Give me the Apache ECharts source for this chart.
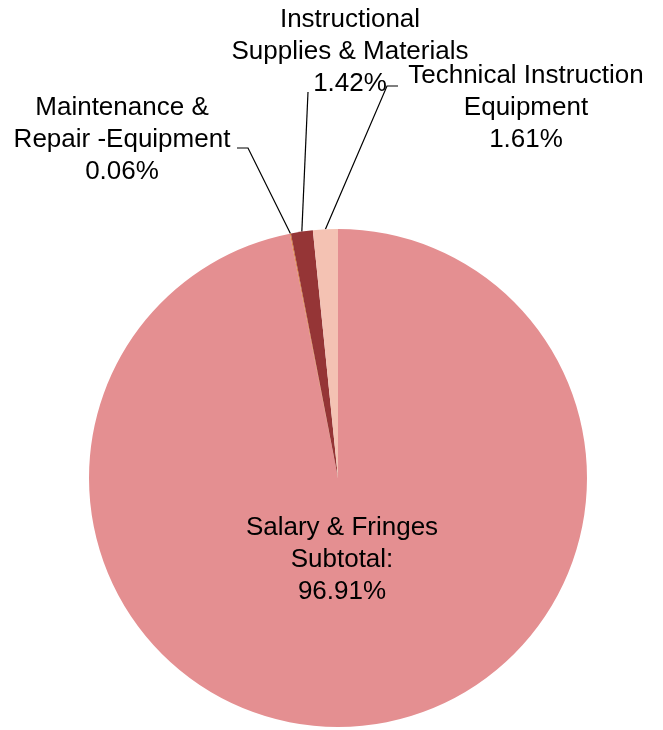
<!DOCTYPE html>
<html>
<head>
<meta charset="utf-8">
<script src="https://cdn.jsdelivr.net/npm/echarts@6/dist/echarts.min.js"></script>
<style>
  html, body { margin: 0; padding: 0; background: #fff; }
  #chart { width: 663px; height: 730px; }
</style>
</head>
<body>
<div id="chart"></div>
<script>
// budget split, in percent of total
var categories = [
    'Salary & Fringes\nSubtotal:',
    'Maintenance &\nRepair -Equipment',
    'Instructional\nSupplies & Materials',
    'Technical Instruction\nEquipment'
];
var shares = [96.91, 0.06, 1.42, 1.61];
var colors = ['#e48f91', '#d9772e', '#953536', '#f4c2b3'];

// where each label sits (centre of text block) and the knee/end of its leader line
var labelSpots = [
    { x: 342, y: 560 },
    { x: 122, y: 140, knee: [248, 148], end: [237, 148] },
    { x: 350, y: 52, knee: [308, 92], end: [308, 92] },
    { x: 526, y: 108, knee: [387, 86], end: [398, 86] }
];

var chart = echarts.init(document.getElementById('chart'), null, { renderer: 'canvas' });

var pieData = categories.map(function (name, i) {
    var item = {
        name: name,
        value: shares[i],
        itemStyle: { color: colors[i] }
    };
    if (i === 0) {
        item.label = { position: 'inside' };
        item.labelLine = { show: false };
    }
    return item;
});

chart.setOption({
    animation: false,
    series: [{
        type: 'pie',
        center: [338, 478],
        radius: 249,
        startAngle: 90,
        clockwise: true,
        avoidLabelOverlap: false,
        itemStyle: { borderWidth: 0 },
        label: {
            show: true,
            position: 'outside',
            formatter: '{b}\n{d}%',
            color: '#000',
            fontFamily: 'Liberation Sans, Arial, sans-serif',
            fontSize: 26,
            lineHeight: 32,
            align: 'center'
        },
        labelLine: {
            show: true,
            length: 20,
            length2: 10,
            lineStyle: { color: '#000', width: 1.2 }
        },
        labelLayout: function (params) {
            var spot = labelSpots[params.dataIndex];
            var out = {
                x: spot.x,
                y: spot.y,
                align: 'center',
                verticalAlign: 'middle',
                hideOverlap: false
            };
            if (spot.knee && params.labelLinePoints) {
                out.labelLinePoints = [
                    params.labelLinePoints[0],
                    spot.knee,
                    spot.end
                ];
            }
            return out;
        },
        data: pieData
    }]
});
</script>
</body>
</html>
